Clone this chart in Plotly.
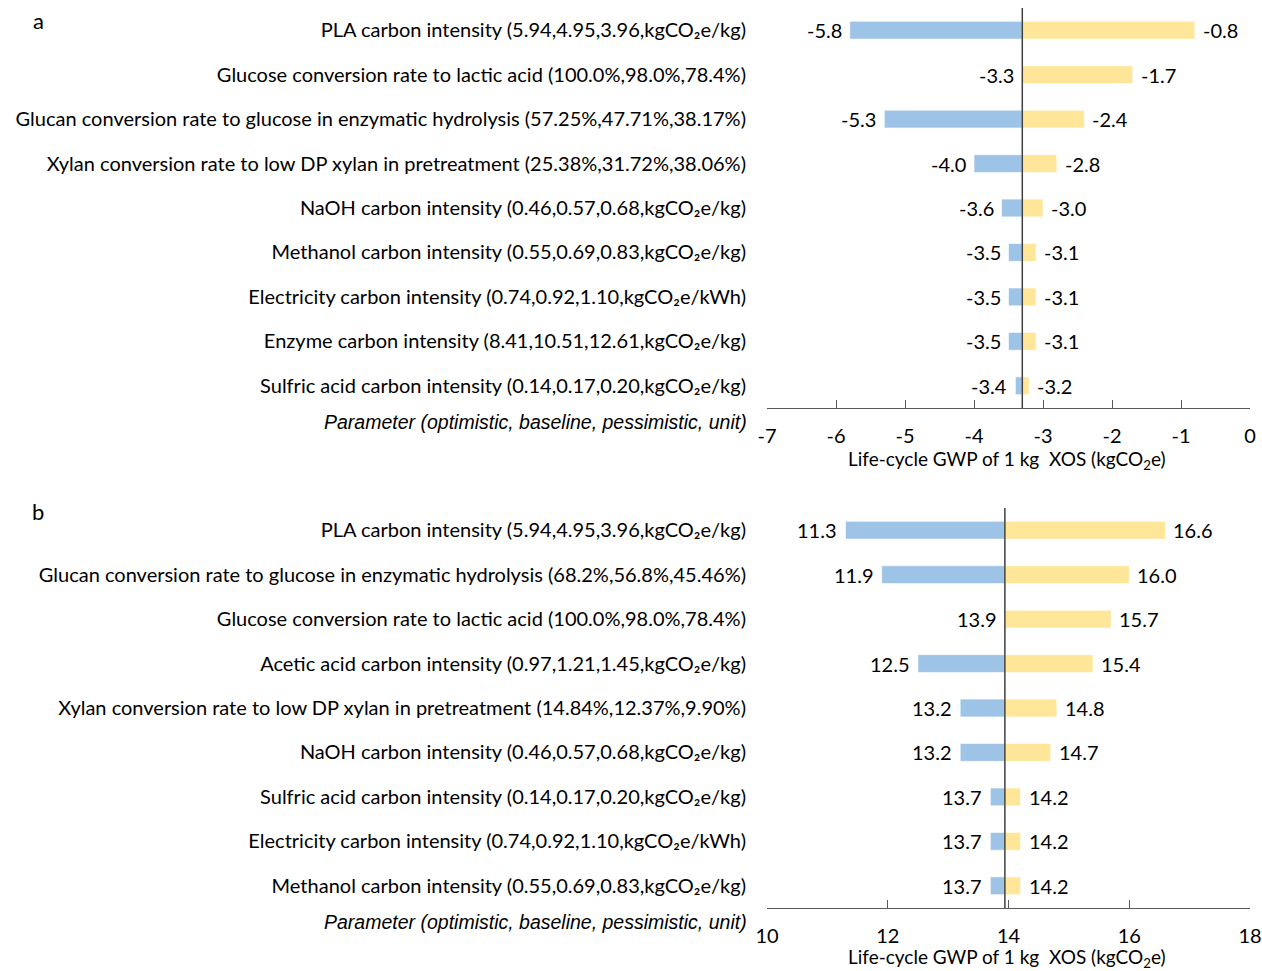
import plotly.graph_objects as go
from plotly.subplots import make_subplots

# ---- Panel a: LCA tornado for the XOS co-production route ----
params_a = [
    "PLA carbon intensity (5.94,4.95,3.96,kgCO₂e/kg)",
    "Glucose conversion rate to lactic acid (100.0%,98.0%,78.4%)",
    "Glucan conversion rate to glucose in enzymatic hydrolysis (57.25%,47.71%,38.17%)",
    "Xylan conversion rate to low DP xylan in pretreatment (25.38%,31.72%,38.06%)",
    "NaOH carbon intensity (0.46,0.57,0.68,kgCO₂e/kg)",
    "Methanol carbon intensity (0.55,0.69,0.83,kgCO₂e/kg)",
    "Electricity carbon intensity (0.74,0.92,1.10,kgCO₂e/kWh)",
    "Enzyme carbon intensity (8.41,10.51,12.61,kgCO₂e/kg)",
    "Sulfric acid carbon intensity (0.14,0.17,0.20,kgCO₂e/kg)",
]
optimistic_a = [-5.8, -3.3, -5.3, -4.0, -3.6, -3.5, -3.5, -3.5, -3.4]
pessimistic_a = [-0.8, -1.7, -2.4, -2.8, -3.0, -3.1, -3.1, -3.1, -3.2]
baseline_a = -3.3
xticks_a = [-7, -6, -5, -4, -3, -2, -1, 0]

# ---- Panel b ----
params_b = [
    "PLA carbon intensity (5.94,4.95,3.96,kgCO₂e/kg)",
    "Glucan conversion rate to glucose in enzymatic hydrolysis (68.2%,56.8%,45.46%)",
    "Glucose conversion rate to lactic acid (100.0%,98.0%,78.4%)",
    "Acetic acid carbon intensity (0.97,1.21,1.45,kgCO₂e/kg)",
    "Xylan conversion rate to low DP xylan in pretreatment (14.84%,12.37%,9.90%)",
    "NaOH carbon intensity (0.46,0.57,0.68,kgCO₂e/kg)",
    "Sulfric acid carbon intensity (0.14,0.17,0.20,kgCO₂e/kg)",
    "Electricity carbon intensity (0.74,0.92,1.10,kgCO₂e/kWh)",
    "Methanol carbon intensity (0.55,0.69,0.83,kgCO₂e/kg)",
]
optimistic_b = [11.3, 11.9, 13.94, 12.5, 13.2, 13.2, 13.7, 13.7, 13.7]
pessimistic_b = [16.6, 16.0, 15.7, 15.4, 14.8, 14.7, 14.2, 14.2, 14.2]
baseline_b = 13.94
xticks_b = [10, 12, 14, 16, 18]

BLUE = "#9DC3E6"
YELLOW = "#FFE699"
AXIS = "#595959"
FONT = "Lato"
FS = 20
ITALIC_FONT = "Liberation Sans"
ITALIC_FS = 19.5

W, H = 1262, 971
x_dom = [767 / W, 1250 / W]
y_dom_a = [(H - 408) / H, (H - 8) / H]
y_dom_b = [(H - 908) / H, (H - 508) / H]

fig = make_subplots(rows=2, cols=1)

panels = [
    (1, params_a, optimistic_a, pessimistic_a, baseline_a, xticks_a, y_dom_a, 422, 460, 20, "a"),
    (2, params_b, optimistic_b, pessimistic_b, baseline_b, xticks_b, y_dom_b, 922, 958, 511, "b"),
]

annotations = []
shapes = []
for row, params, opt, pes, base, xt, ydom, py_param, py_title, py_letter, letter in panels:
    ypos = list(range(len(params)))
    fig.add_trace(go.Bar(
        y=ypos, x=[v - base for v in opt], base=base, orientation="h",
        marker=dict(color=BLUE, line=dict(color="white", width=0.6)),
        width=0.4, showlegend=False, hoverinfo="skip",
    ), row=row, col=1)
    fig.add_trace(go.Bar(
        y=ypos, x=[v - base for v in pes], base=base, orientation="h",
        marker=dict(color=YELLOW, line=dict(color="white", width=0.6)),
        width=0.4, showlegend=False, hoverinfo="skip",
    ), row=row, col=1)

    xr = "x" if row == 1 else "x2"
    yr = "y" if row == 1 else "y2"
    for i in ypos:
        annotations.append(dict(x=opt[i], y=i, xref=xr, yref=yr, text=f"{opt[i]:.1f}",
                                showarrow=False, xanchor="right", xshift=-6,
                                font=dict(family=FONT, size=FS, color="black")))
        annotations.append(dict(x=pes[i], y=i, xref=xr, yref=yr, text=f"{pes[i]:.1f}",
                                showarrow=False, xanchor="left", xshift=6,
                                font=dict(family=FONT, size=FS, color="black")))

    # baseline reference line
    shapes.append(dict(type="line", xref=xr, yref=f"{yr} domain", x0=base, x1=base,
                       y0=0, y1=1, line=dict(color="#404040", width=1.5)))

    annotations.append(dict(x=749 / W, y=(H - py_param) / H, xref="paper", yref="paper",
                            text="<i>Parameter (optimistic, baseline, pessimistic, unit)</i>",
                            showarrow=False, xanchor="right", yanchor="middle",
                            font=dict(family=ITALIC_FONT, size=ITALIC_FS, color="black")))
    annotations.append(dict(x=1007 / W, y=(H - py_title) / H, xref="paper", yref="paper",
                            text="Life-cycle GWP of 1 kg\u00a0 XOS (kgCO<sub>2</sub>e)",
                            showarrow=False, xanchor="center", yanchor="middle",
                            font=dict(family=FONT, size=19, color="black")))
    annotations.append(dict(x=38 / W, y=(H - py_letter) / H, xref="paper", yref="paper",
                            text=letter, showarrow=False, xanchor="center", yanchor="middle",
                            font=dict(family=FONT, size=22, color="black")))

    fig.update_xaxes(row=row, col=1, domain=x_dom, range=[xt[0], xt[-1]],
                     tickvals=xt, ticktext=[str(t) for t in xt],
                     showline=True, linecolor=AXIS, linewidth=1.3,
                     ticks="inside", ticklen=8, tickwidth=1.3, tickcolor=AXIS,
                     ticklabelstandoff=10,
                     showgrid=False, zeroline=False, automargin=False,
                     tickfont=dict(family=FONT, size=FS, color="black"))
    fig.update_yaxes(row=row, col=1, domain=ydom, range=[len(params) - 0.5, -0.5],
                     tickvals=ypos, ticktext=params, ticks="",
                     showline=False, showgrid=False, zeroline=False, automargin=False,
                     ticklabelstandoff=20,
                     tickfont=dict(family=FONT, size=FS, color="black"))

fig.update_layout(
    width=W, height=H, margin=dict(l=0, r=0, t=0, b=0),
    paper_bgcolor="white", plot_bgcolor="white",
    barmode="overlay", annotations=annotations, shapes=shapes,
    font=dict(family=FONT, size=FS, color="black"),
)

fig.write_html("out.html")
